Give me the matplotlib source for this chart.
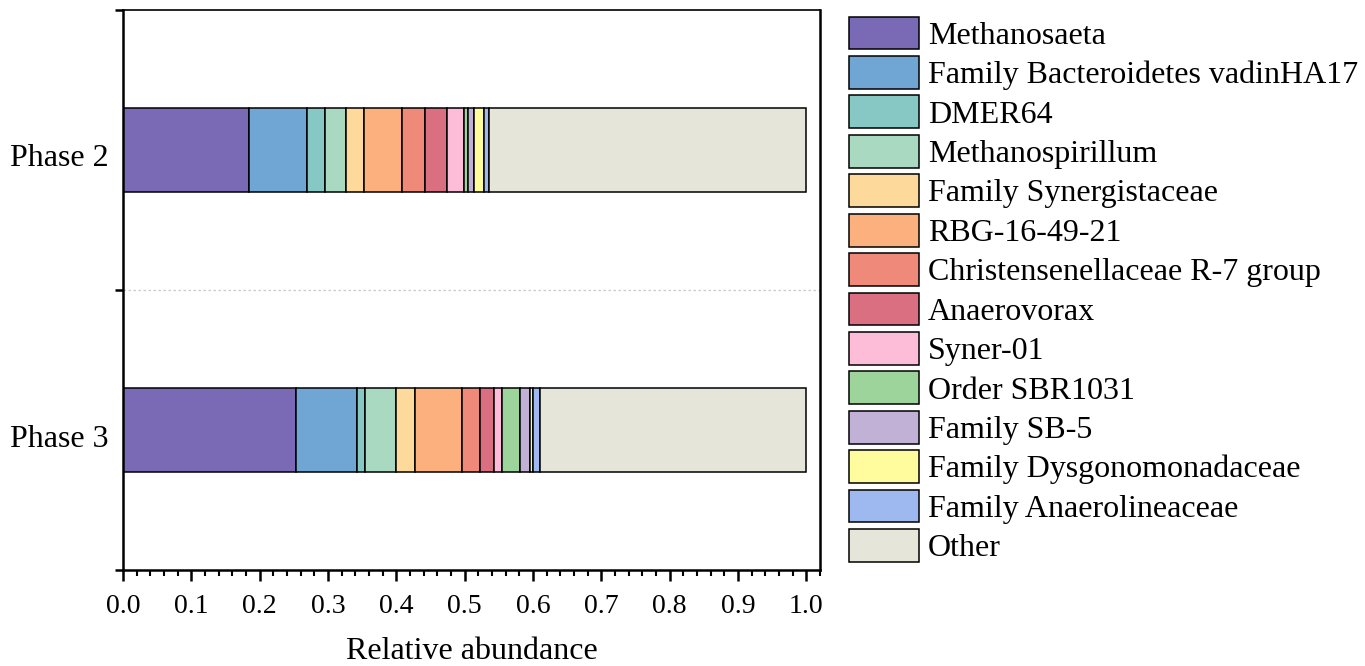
import numpy as np
import matplotlib
matplotlib.use('Agg')
from matplotlib import pyplot as plt
from matplotlib import transforms
from matplotlib.ticker import MultipleLocator

plt.rcParams['font.family'] = ['Liberation Serif', 'DejaVu Serif']

phases = ['Phase 2', 'Phase 3']
taxa = ['Methanosaeta', 'Family Bacteroidetes vadinHA17', 'DMER64',
        'Methanospirillum', 'Family Synergistaceae', 'RBG-16-49-21',
        'Christensenellaceae R-7 group', 'Anaerovorax', 'Syner-01',
        'Order SBR1031', 'Family SB-5', 'Family Dysgonomonadaceae',
        'Family Anaerolineaceae', 'Other']
phase2 = [0.185, 0.084, 0.026, 0.032, 0.025, 0.056, 0.034, 0.032, 0.025,
          0.006, 0.009, 0.014, 0.007, 0.465]
phase3 = [0.253, 0.090, 0.011, 0.045, 0.028, 0.069, 0.026, 0.021, 0.011,
          0.027, 0.014, 0.005, 0.011, 0.388]
colors = ['#7A69B5', '#70A6D4', '#88C8C4', '#A9D9C0', '#FDD99B', '#FBB07E',
          '#EF8A7A', '#DB6F82', '#FDBCD8', '#9DD49B', '#C2B1D6', '#FEFC9C',
          '#9DB9EF', '#E5E5DA']

fig = plt.figure(figsize=(13.65, 6.66), dpi=100)
ax = fig.add_axes([0.0901, 0.1441, 0.5106, 0.8409])

values = np.array([phase2, phase3])
ypos = np.arange(len(phases))
left = np.zeros(len(phases))
for i, name in enumerate(taxa):
    ax.barh(ypos, values[:, i], left=left, height=0.3, color=colors[i],
            edgecolor='black', linewidth=1.1, label=name)
    left += values[:, i]

ax.set_ylim(1.5, -0.5)
ax.set_xlim(0, 1.02)
ax.axhline(0.5, color='#c8c8c8', linestyle=(0, (2, 2)), linewidth=0.9)

ax.set_yticks(ypos)
ax.set_yticklabels(phases, fontsize=23, va='center')
ax.tick_params(axis='y', which='major', length=0, pad=10)
shift = transforms.ScaledTranslation(0, -0.09, fig.dpi_scale_trans)
for lbl in ax.get_yticklabels():
    lbl.set_transform(lbl.get_transform() + shift)
ax.set_yticks([-0.5, 0.5, 1.5], minor=True)
ax.tick_params(axis='y', which='minor', length=6, width=1.8)

ax.xaxis.set_minor_locator(MultipleLocator(0.02))
ax.set_xticks(np.arange(0, 1.01, 0.1))
ax.set_xticklabels(['%.1f' % v for v in np.arange(0, 1.01, 0.1)], fontsize=20)
ax.tick_params(axis='x', which='major', length=8, width=1.8, pad=9)
ax.tick_params(axis='x', which='minor', length=4, width=1.5)
ax.set_xlabel('Relative abundance', fontsize=23, labelpad=13)

for side in ['left', 'bottom', 'right']:
    ax.spines[side].set_linewidth(1.8)
ax.spines['top'].set_linewidth(1.2)

fig.legend(loc='upper left', bbox_to_anchor=(0.622, 0.975), frameon=False,
           fontsize=23, handlelength=2.19, handleheight=1.2,
           labelspacing=0.165, handletextpad=0.28, borderaxespad=0,
           borderpad=0)

fig.savefig('out.png', dpi=100)
